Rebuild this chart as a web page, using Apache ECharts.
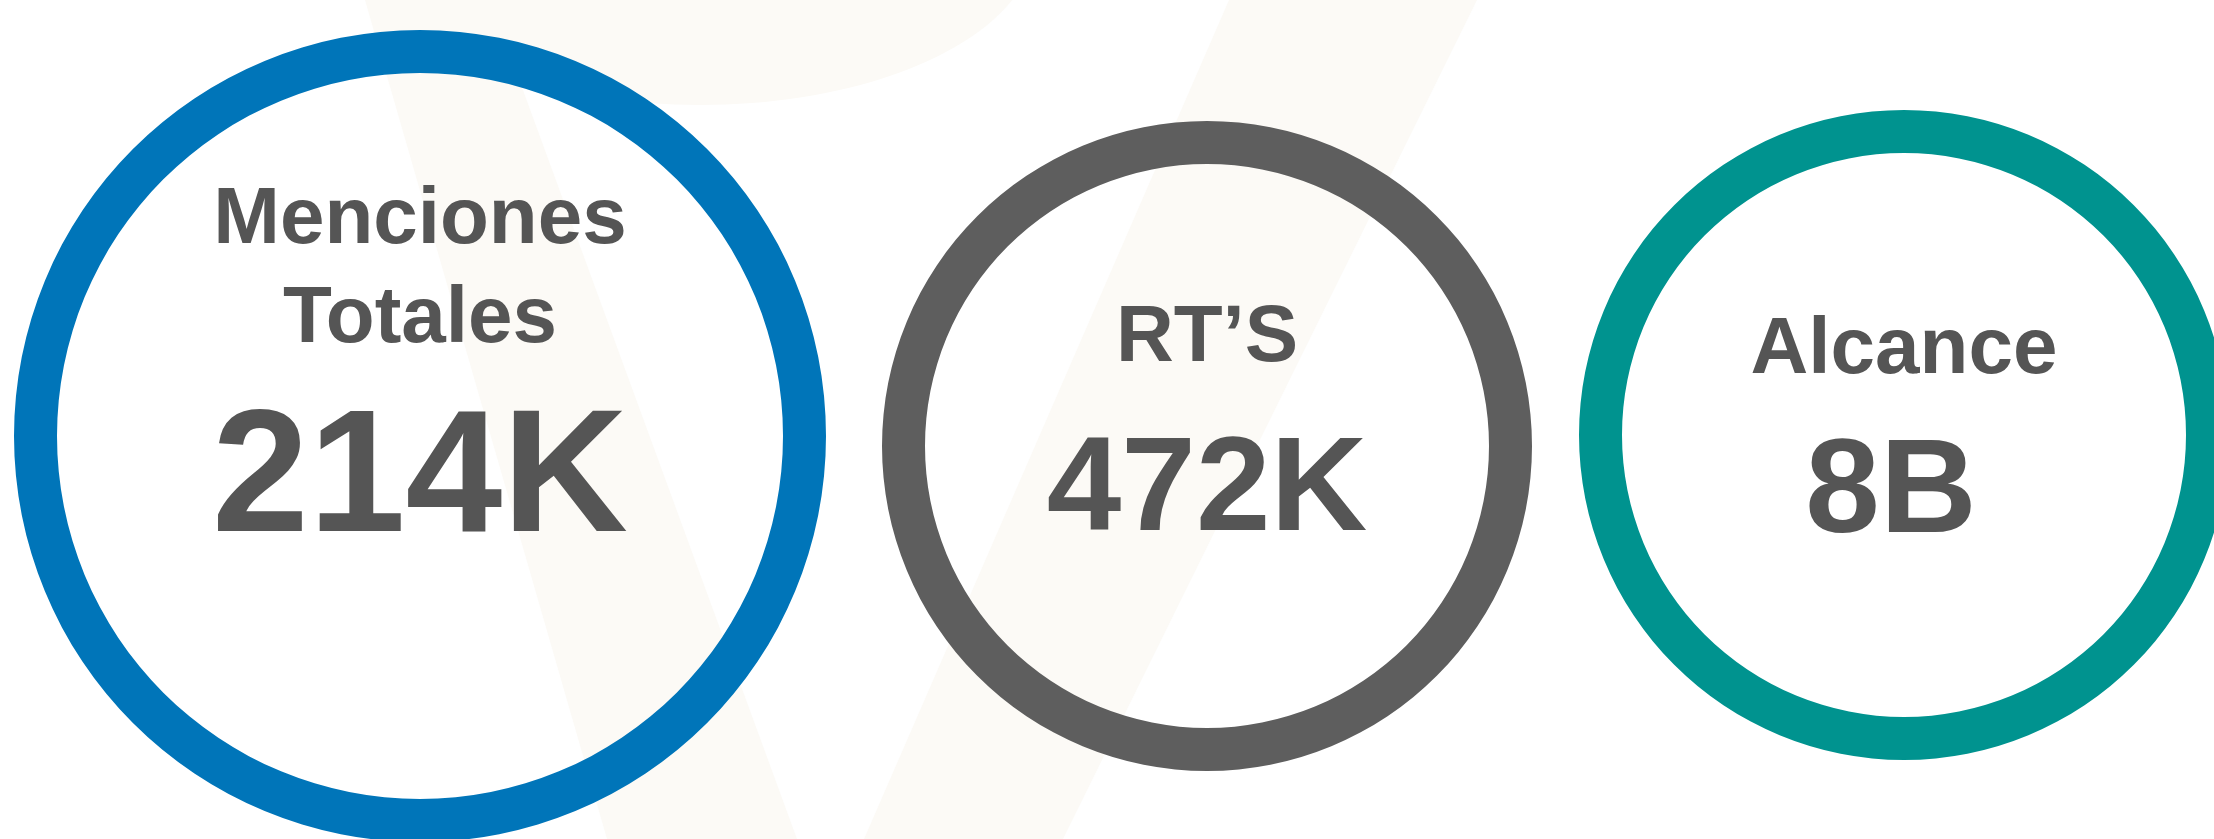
<!DOCTYPE html>
<html>
<head>
<meta charset="utf-8">
<script src="https://cdn.jsdelivr.net/npm/echarts@6/dist/echarts.min.js"></script>
<style>
  html, body { margin: 0; padding: 0; background: #ffffff; }
  #a { width: 2214px; height: 839px; }
</style>
</head>
<body>
<div id="a"></div>
<script>
// datos de los anillos
var titles = ['Menciones\nTotales', 'RT\u2019S', 'Alcance'];
var valueLabels = ['214K', '472K', '8B'];
var values = [214000, 472000, 8000000000];
var ringColors = ['#0075b9', '#5e5e5e', '#00938f'];

// layout de cada anillo (px)
var centers = [[420, 436], [1207, 446], [1904, 435]];
var radii = [[363, 406], [282, 325], [282, 325]];
var titleSize = 80;
var titleLineHeights = [99, 94, 120];
var valueSizes = [174, 134, 134];
var valueLineHeights = [227, 214, 168];
var bottomSpacer = [104, 0, 0];
var valuePadRight = [0, 0, 26];

var myechart = echarts.init(document.getElementById('a'));

var series = [];
for (var i = 0; i < values.length; i++) {
    var lines = titles[i].split('\n').map(function (t) { return '{t|' + t + '}'; });
    lines.push('{v|' + valueLabels[i] + '}');
    if (bottomSpacer[i] > 0) lines.push('{sp| }');
    series.push({
        name: titles[i],
        type: 'pie',
        silent: true,
        center: centers[i],
        radius: radii[i],
        itemStyle: { color: ringColors[i], borderWidth: 0 },
        label: {
            show: true,
            position: 'center',
            formatter: lines.join('\n'),
            rich: {
                t: {
                    fontFamily: 'Liberation Sans',
                    fontWeight: 'bold',
                    fontSize: titleSize,
                    lineHeight: titleLineHeights[i],
                    color: '#555555'
                },
                v: {
                    fontFamily: 'Liberation Sans',
                    fontWeight: 'bold',
                    fontSize: valueSizes[i],
                    lineHeight: valueLineHeights[i],
                    padding: [0, valuePadRight[i], 0, 0],
                    color: '#555555'
                },
                sp: {
                    fontSize: 10,
                    lineHeight: bottomSpacer[i]
                }
            }
        },
        labelLine: { show: false },
        emphasis: { disabled: true },
        data: [{ value: values[i], name: titles[i] }]
    });
}

// marca de agua de fondo
var wm = '#fcfaf6';
option = {
    backgroundColor: '#ffffff',
    animation: false,
    tooltip: { show: false },
    graphic: [
        { type: 'ellipse', z: -10, silent: true, shape: { cx: 700, cy: -60, rx: 335, ry: 165 }, style: { fill: wm } },
        { type: 'polygon', z: -10, silent: true, shape: { points: [[365, 0], [490, 0], [797, 839], [607, 839]] }, style: { fill: wm } },
        { type: 'polygon', z: -10, silent: true, shape: { points: [[1229, 0], [1477, 0], [1063, 839], [864, 839]] }, style: { fill: wm } }
    ],
    series: series
};
myechart.setOption(option);
</script>
</body>
</html>
